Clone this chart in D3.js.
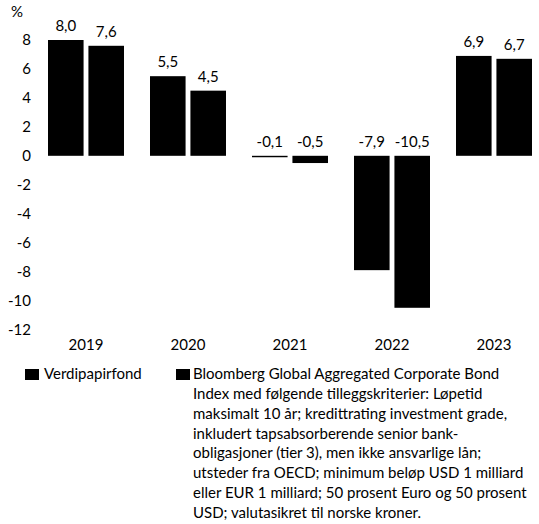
<!DOCTYPE html>
<html>
<head>
<meta charset="utf-8">
<script src="https://cdn.jsdelivr.net/npm/d3@7"></script>
<style>
  body { margin: 0; background: #fff; }
  text { font-family: "Lato", "DejaVu Sans", sans-serif; fill: #000; }
</style>
</head>
<body>
<div id="chart"></div>
<script>
// data
var years = ["2019", "2020", "2021", "2022", "2023"];
var fund = [8.0, 5.5, -0.1, -7.9, 6.9];
var index = [7.6, 4.5, -0.5, -10.5, 6.7];
var yTicks = [-12, -10, -8, -6, -4, -2, 0, 2, 4, 6, 8];
var seriesNames = ["Verdipapirfond", "Bloomberg Global Aggregated Corporate Bond"];
var noteLines = [
  "Bloomberg Global Aggregated Corporate Bond",
  "Index med følgende tilleggskriterier: Løpetid",
  "maksimalt 10 år; kredittrating investment grade,",
  "inkludert tapsabsorberende senior bank-",
  "obligasjoner (tier 3), men ikke ansvarlige lån;",
  "utsteder fra OECD; minimum beløp USD 1 milliard",
  "eller EUR 1 milliard; 50 prosent Euro og 50 prosent",
  "USD; valutasikret til norske kroner."
];

var width = 539, height = 524;

var svg = d3.select("#chart").append("svg")
    .attr("width", width)
    .attr("height", height);

var rows = years.map(function(y, i) {
  return {year: y, values: [fund[i], index[i]]};
});

// scales
var x0 = d3.scaleBand()
    .domain(years)
    .range([48, 532])
    .paddingInner(0.255)
    .paddingOuter(0);

var x1 = d3.scaleBand()
    .domain([0, 1])
    .range([0, x0.bandwidth()])
    .paddingInner(0.12);

var y = d3.scaleLinear()
    .domain([-12, 8])
    .range([329.5, 40]);

// y tick labels
svg.selectAll(".ytick")
    .data(yTicks)
  .enter().append("text")
    .attr("class", "ytick")
    .attr("x", 31)
    .attr("y", function(d) { return y(d); })
    .attr("dy", "0.35em")
    .attr("text-anchor", "end")
    .attr("font-size", "15px")
    .text(function(d) { return d < 0 ? "-" + Math.abs(d) : d; });

svg.append("text")
    .attr("x", 11)
    .attr("y", 17)
    .attr("font-size", "15px")
    .text("%");

// bars
var groups = svg.selectAll(".grp")
    .data(rows)
  .enter().append("g")
    .attr("class", "grp")
    .attr("transform", function(d) { return "translate(" + x0(d.year) + ",0)"; });

groups.selectAll("rect")
    .data(function(d) { return d.values; })
  .enter().append("rect")
    .attr("x", function(d, i) { return x1(i); })
    .attr("width", x1.bandwidth())
    .attr("y", function(d) { return y(Math.max(0, d)); })
    .attr("height", function(d) { return Math.max(1, Math.abs(y(d) - y(0))); })
    .attr("fill", "#000");

groups.selectAll(".val")
    .data(function(d) { return d.values; })
  .enter().append("text")
    .attr("class", "val")
    .attr("x", function(d, i) { return x1(i) + x1.bandwidth() / 2; })
    .attr("y", function(d) { return d >= 0 ? y(d) - 9 : y(0) - 9; })
    .attr("text-anchor", "middle")
    .attr("font-size", "15px")
    .text(function(d) { return d3.format(".1f")(d).replace(".", ",").replace("−", "-"); });

// year labels
svg.selectAll(".year")
    .data(years)
  .enter().append("text")
    .attr("class", "year")
    .attr("x", function(d) { return x0(d) + x0.bandwidth() / 2; })
    .attr("y", 350)
    .attr("text-anchor", "middle")
    .attr("font-size", "15px")
    .text(function(d) { return d; });

// legend
var legX = [25, 176];
svg.selectAll(".legbox")
    .data(seriesNames)
  .enter().append("rect")
    .attr("class", "legbox")
    .attr("x", function(d, i) { return legX[i]; })
    .attr("y", 369)
    .attr("width", 14)
    .attr("height", 11)
    .attr("fill", "#000");

svg.append("text")
    .attr("x", legX[0] + 19)
    .attr("y", 379)
    .attr("font-size", "15px")
    .text(seriesNames[0]);

var note = svg.append("text")
    .attr("x", legX[1] + 17)
    .attr("y", 379)
    .attr("font-size", "15px");

note.selectAll("tspan")
    .data(noteLines)
  .enter().append("tspan")
    .attr("x", legX[1] + 17)
    .attr("dy", function(d, i) { return i === 0 ? 0 : 19.85; })
    .text(function(d) { return d; });
</script>
</body>
</html>
